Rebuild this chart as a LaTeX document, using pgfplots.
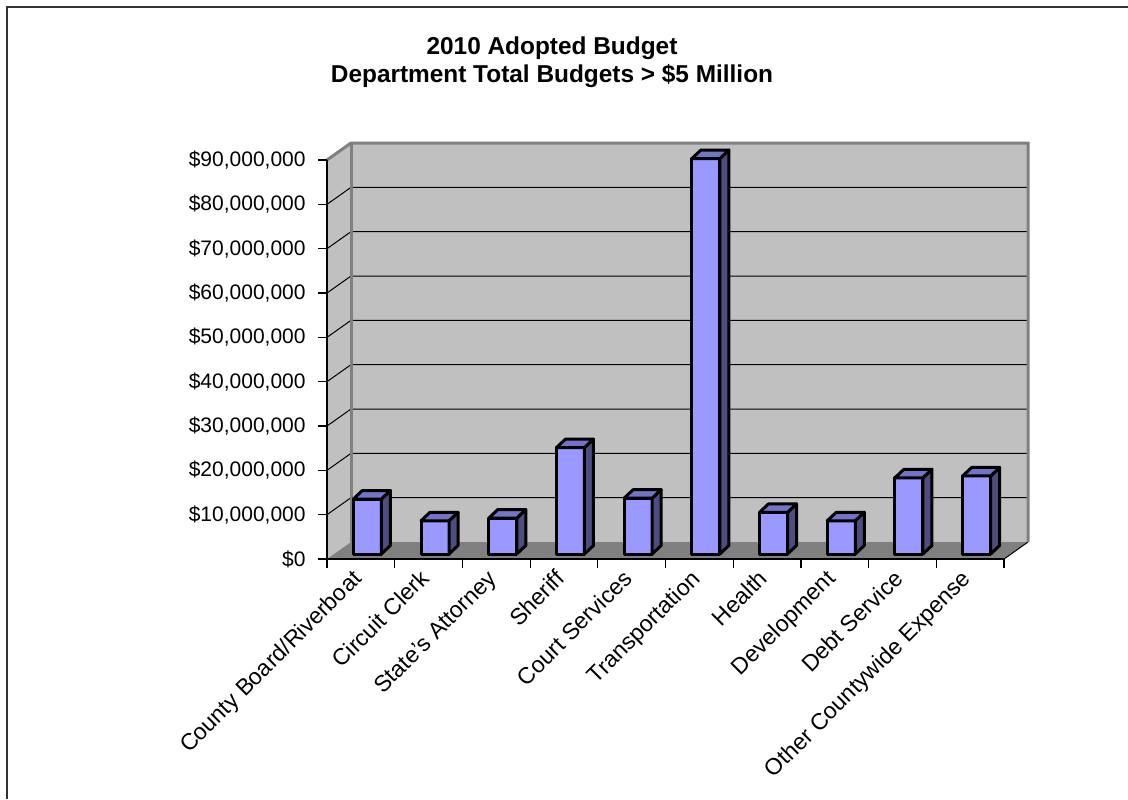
\documentclass[border=0pt]{standalone}
\usepackage{pgfplots}
\pgfplotsset{compat=1.18}
\usepackage{pgfplotstable}
\usepackage{fontspec}
\setmainfont{Liberation Sans}
\definecolor{barfront}{HTML}{9999FF}
\definecolor{bartop}{HTML}{7373C8}
\definecolor{barside}{HTML}{4D4D80}
\definecolor{wallc}{HTML}{C0C0C0}
\definecolor{floorc}{HTML}{808080}
\definecolor{walledge}{HTML}{808080}

\pgfplotstableread{
x val
0.5 12.4
1.5 7.5
2.5 8.1
3.5 24.0
4.5 12.6
5.5 89.2
6.5 9.4
7.5 7.5
8.5 17.2
9.5 17.6
}\budget

\begin{document}
\begin{tikzpicture}
\useasboundingbox (0,0) rectangle (564pt,399.5pt);
\draw[line width=1pt, color=black!80] (3.5pt,0) -- (3.5pt,396pt) -- (564pt,396pt);
\node[font=\fontsize{12.2}{14}\selectfont\bfseries, align=center] at (276pt,368.5pt) {2010 Adopted Budget\\Department Total Budgets > \$5 Million};
\begin{axis}[
  axis on top,
  at={(163.5pt,120pt)}, anchor=south west,
  scale only axis, width=338.5pt, height=199.5pt,
  xmin=0, xmax=10, ymin=0, ymax=90,
  axis x line*=bottom, axis y line*=left,
  axis line style={black, line width=0.6pt, -},
  tick align=outside,
  major tick length=4.5pt,
  xtick={0,1,...,10},
  x tick label as interval=true,
  xticklabels={County Board/Riverboat, Circuit Clerk, State's Attorney, Sheriff, Court Services, Transportation, Health, Development, Debt Service, Other Countywide Expense},
  ytick={0,10,...,90},
  yticklabels={\$0,{\$10,000,000},{\$20,000,000},{\$30,000,000},{\$40,000,000},{\$50,000,000},{\$60,000,000},{\$70,000,000},{\$80,000,000},{\$90,000,000}},
  tick style={black, line width=0.6pt},
  yticklabel style={font=\fontsize{10.5}{12}\selectfont, inner sep=0pt, xshift=-6pt},
  xticklabel style={font=\fontsize{11.5}{13}\selectfont, xshift=-5pt, rotate=45, anchor=north east, inner sep=0pt},
  clip=false,
]
  \fill[wallc] (axis cs:0,0) -- (axis cs:0,90) -- ([shift={(12pt,8.5pt)}]axis cs:0,90) -- ([shift={(12pt,8.5pt)}]axis cs:0,0) -- cycle;
  \fill[wallc] ([shift={(12pt,8.5pt)}]axis cs:0,0) rectangle ([shift={(12pt,8.5pt)}]axis cs:10,90);
  \fill[floorc] (axis cs:0,0) -- (axis cs:10,0) -- ([shift={(12pt,8.5pt)}]axis cs:10,0) -- ([shift={(12pt,8.5pt)}]axis cs:0,0) -- cycle;
  \pgfplotsinvokeforeach{10,20,...,80}{
    \draw[black, line width=0.5pt] (axis cs:0,#1) -- ([shift={(12pt,8.5pt)}]axis cs:0,#1) -- ([shift={(12pt,8.5pt)}]axis cs:10,#1);
  }
  \draw[black, line width=0.5pt] (axis cs:10,0) -- ([shift={(12pt,8.5pt)}]axis cs:10,0);
  \draw[walledge, line width=1.5pt] (axis cs:0,90) -- ([shift={(12pt,8.5pt)}]axis cs:0,90) -- ([shift={(12pt,8.5pt)}]axis cs:10,90) -- ([shift={(12pt,8.5pt)}]axis cs:10,0);
  \draw[walledge, line width=1.5pt] ([shift={(12pt,8.5pt)}]axis cs:0,90) -- ([shift={(12pt,8.5pt)}]axis cs:0,0);
\addplot[ybar, bar width=14pt, bar shift=3.25pt, yshift=2.5pt, fill=barfront, draw=black, line width=1.5pt, line join=round] table[x=x,y=val]{\budget};
\addplot[only marks, mark=*, mark size=0.01pt,
  scatter, scatter/use mapped color={draw=barfront, fill=barfront, line width=0.1pt},
  visualization depends on={rawy \as \val},
  scatter/@pre marker code/.code={
    \dimen0=\val pt
    \dimen0=2.216667\dimen0
    \dimen2=6.75pt \advance\dimen2 by -\dimen0
    \dimen4=2.5pt \advance\dimen4 by -\dimen0
    \edef\ya{\the\dimen2}\edef\yb{\the\dimen4}
    \filldraw[fill=barside, draw=black, line width=1.5pt, line join=round] (10.25pt,2.5pt) -- (14.75pt,6.75pt) -- (14.75pt,\ya) -- (10.25pt,\yb) -- cycle;
    \filldraw[fill=bartop, draw=black, line width=1.5pt, line join=round] (-3.75pt,2.5pt) -- (10.25pt,2.5pt) -- (14.75pt,6.75pt) -- (0.75pt,6.75pt) -- cycle;
    \pgfsetfillcolor{barfront}\pgfsetstrokecolor{barfront}\pgfsetlinewidth{0.1pt}
  },
  scatter/@post marker code/.code={}
] table[x=x,y=val]{\budget};
\end{axis}
\end{tikzpicture}
\end{document}
